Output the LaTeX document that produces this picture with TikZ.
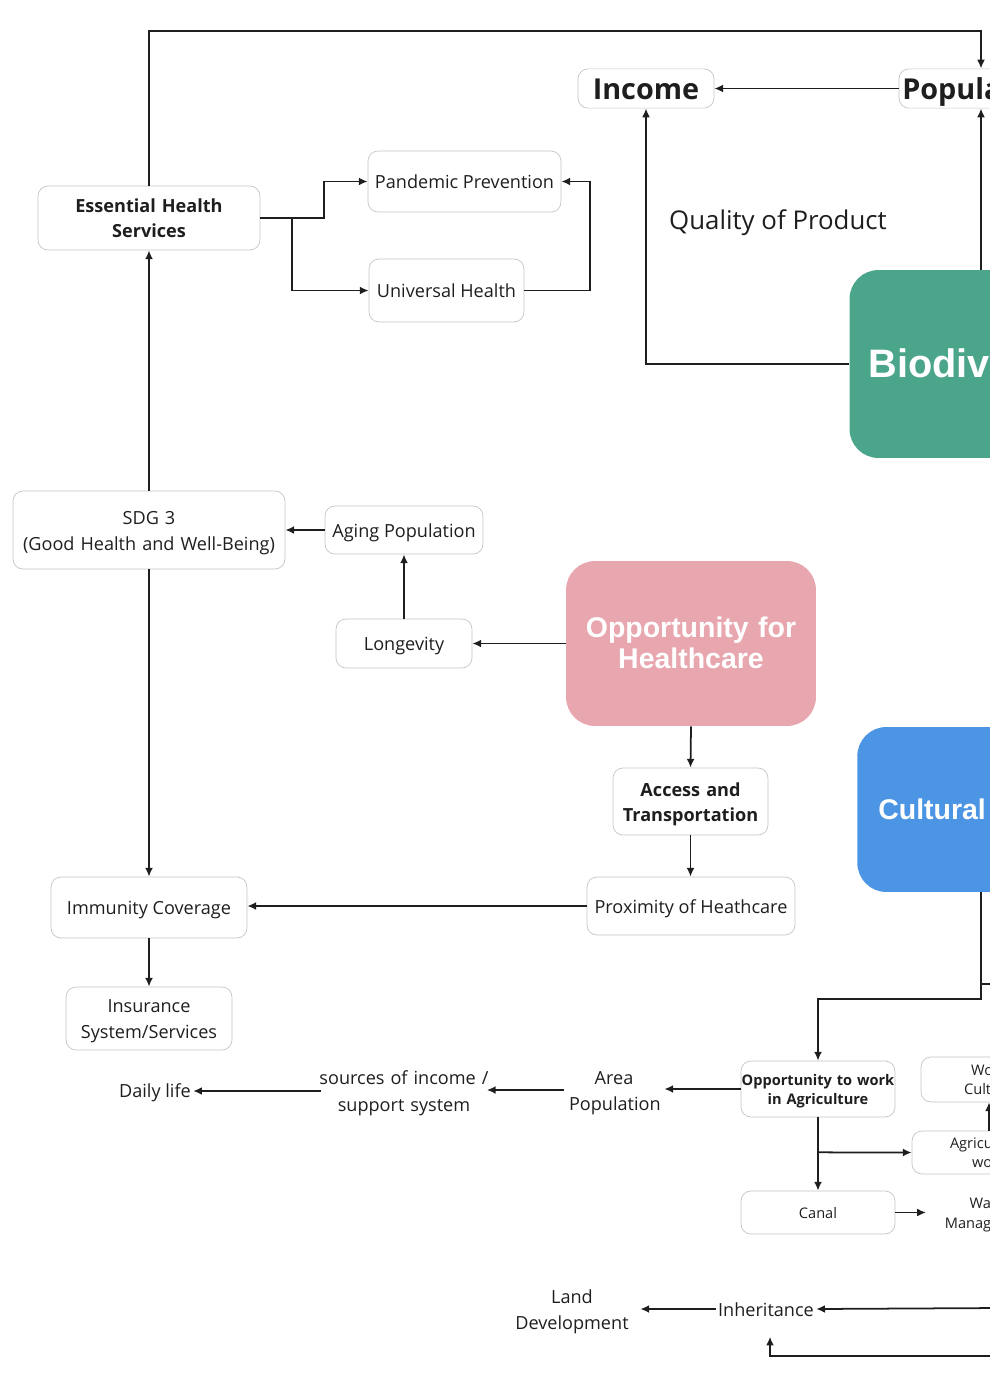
\documentclass[tikz,border=0pt]{standalone}
\usepackage{fontspec}
\setmainfont{Open Sans}
\newfontfamily\headfont{Liberation Sans}
\usetikzlibrary{arrows.meta}
\definecolor{ink}{HTML}{1E1E1E}
\definecolor{edge}{HTML}{C4C4C4}
\definecolor{biogreen}{HTML}{4BA58A}
\definecolor{healthpink}{HTML}{E8A6AF}
\definecolor{cultblue}{HTML}{4C95E4}
\tikzset{
	ostrut/.style={execute at begin node={\rule{0pt}{1.069em}}, execute at end node={\rule[-0.293em]{0pt}{0pt}}},
	hstrut/.style={execute at begin node={\rule{0pt}{0.905em}}, execute at end node={\rule[-0.212em]{0pt}{0pt}}},
	box/.style={draw=edge, line width=0.4pt, rounded corners=0.2cm, align=center, text=ink, inner sep=0pt, ostrut, font=\fontsize{10.3}{14.3}\selectfont},
	boldbox/.style={box, font=\bfseries\fontsize{10.3}{14.2}\selectfont},
	smallbox/.style={box, font=\fontsize{8.3}{11}\selectfont},
	boldsmall/.style={box, font=\bfseries\fontsize{8.3}{10.8}\selectfont},
	topic/.style={rounded corners=0.58cm, inner sep=0pt, text=white, align=center, hstrut, font=\headfont\bfseries\fontsize{16.2}{17.6}\selectfont},
	lbl/.style={text=ink, align=center, inner sep=0.04cm, ostrut, font=\fontsize{10.3}{14.8}\selectfont},
	link/.style={->, line width=1pt, draw=ink},
}
\begin{document}
\begin{tikzpicture}[x=0.02cm, y=-0.02cm, >={Latex[length=5pt,width=4.5pt]}]
	\useasboundingbox (0,0) rectangle (990,1380);
	\clip (0,0) rectangle (990,1380);
	\node[box, font=\bfseries\fontsize{16.4}{20}\selectfont, minimum width=2.72cm, minimum height=0.78cm] (income) at (646,88.5) {Income};
	\node[box, font=\bfseries\fontsize{16.4}{20}\selectfont, minimum width=3.28cm, minimum height=0.78cm] (popul) at (981,88.5) {Population};
	\node[lbl, font=\fontsize{14.7}{18}\selectfont] (quality) at (778,219) {Quality of Product};
	\node[topic, fill=biogreen, font=\headfont\bfseries\fontsize{22.6}{26}\selectfont, minimum width=5.3cm, minimum height=3.76cm] (biodiv) at (982,364) {Biodiversity};
	\node[boldbox, text width=4.44cm, minimum height=1.28cm] (ess) at (149,218) {Essential Health\\Services};
	\node[box, minimum width=3.86cm, minimum height=1.22cm] (pand) at (464.5,181.5) {Pandemic Prevention};
	\node[box, minimum width=3.1cm, minimum height=1.26cm] (univ) at (446.5,290.5) {Universal Health};
	\node[box, font=\fontsize{10.3}{14.8}\selectfont, text width=5.44cm, minimum height=1.56cm] (sdg) at (149,530) {SDG 3\\(Good Health and Well-Being)};
	\node[box, minimum width=3.16cm, minimum height=0.96cm] (aging) at (404,530) {Aging Population};
	\node[box, minimum width=2.72cm, minimum height=0.98cm] (longev) at (404,643.5) {Longevity};
	\node[topic, fill=healthpink, text width=5cm, minimum height=3.3cm] (opph) at (691,643.5) {Opportunity for\\Healthcare};
	\node[boldbox, text width=3.1cm, minimum height=1.34cm] (access) at (690.5,801.5) {Access and\\Transportation};
	\node[box, minimum width=4.16cm, minimum height=1.16cm] (prox) at (691,906) {Proximity of Heathcare};
	\node[topic, fill=cultblue, anchor=west, align=left, text width=4.56cm, inner xsep=0.42cm, minimum height=3.3cm] (cultural) at (857,809.5) {Cultural};
	\node[box, minimum width=3.92cm, minimum height=1.22cm] (immun) at (149,907.5) {Immunity Coverage};
	\node[box, text width=3.32cm, minimum height=1.26cm] (insur) at (149,1018.5) {Insurance\\System/Services};
	\node[lbl] (daily) at (155,1090) {Daily life};
	\node[lbl, font=\fontsize{10.3}{15.3}\selectfont, text width=3.5cm, inner xsep=-0.1cm] (sources) at (404,1091) {sources of income /\\support system};
	\node[lbl, inner xsep=0.1cm, text width=1.8cm] (area) at (614,1090) {Area\\Population};
	\node[boldsmall, text width=3.08cm, minimum height=1.12cm] (owork) at (818,1089) {Opportunity to work\\in Agriculture};
	\node[smallbox, text width=2.72cm, minimum height=0.9cm] (wcult) at (989,1079.5) {Work\\Culture};
	\node[smallbox, text width=3.08cm, minimum height=0.86cm] (agri) at (989,1152.5) {Agricultural\\work};
	\node[smallbox, minimum width=3.08cm, minimum height=0.86cm] (canal) at (818,1212.5) {Canal};
	\node[lbl, font=\fontsize{8.3}{11.3}\selectfont, text width=2cm] (water) at (990,1213) {Water\\Management};
	\node[lbl, inner xsep=0.2cm, text width=2.32cm] (land) at (572,1309) {Land\\Development};
	\node[lbl] (inher) at (766,1309) {Inheritance};
	\coordinate (cultr) at (1000,984);
	\coordinate (canalr) at (926,1212.5);
	\coordinate (inr) at (1000,1308);
	\coordinate (inr2) at (1000,1356);

	\draw[link] (ess.north) -- ++(0,-155) -| (popul.north);
	\draw[link] (popul.west) -- (income.east);
	\draw[link] (biodiv.west) -| (income.south);
	\draw[link] (biodiv.north -| popul.south) -- (popul.south);
	\draw[link] (ess.east) -- ++(64,0) |- (pand.west);
	\draw[link] ([xshift=0.64cm]ess.east) |- (univ.west);
	\draw[link] (univ.east) -- ++(66,0) |- (pand.east);
	\draw[link] (sdg.north) -- (ess.south);
	\draw[link] (aging.west) -- (sdg.east);
	\draw[link] (longev.north) -- (aging.south);
	\draw[link] (opph.west) -- (longev.east);
	\draw[link] (opph.south) -- (access.north);
	\draw[link] (access.south) -- (access.south |- prox.north);
	\draw[link] (prox.west) -- (prox.west -| immun.east);
	\draw[link] (sdg.south) -- (immun.north);
	\draw[link] (immun.south) -- (insur.north);
	\draw[link] (cultural.south -| popul.south) -- ++(0,107) -| (owork.north);
	\draw[link, -] (cultr -| popul.south) -- (cultr);
	\draw[link] (owork.west) -- (owork.west -| area.east);
	\draw[link] (area.west) -- (area.west -| sources.east);
	\draw[link] (sources.west) -- (sources.west -| daily.east);
	\draw[link] (owork.south) -- (canal.north);
	\draw[link] ([yshift=-0.7cm]owork.south) -- (agri.west);
	\draw[link] (agri.north) -- (wcult.south);
	\draw[link] (canal.east) -- (canalr);
	\draw[link] (inr) -- (inher.east);
	\draw[link] (inher.west) -- (inher.west -| land.east);
	\draw[link, shorten >=0.26cm] (inr2) -| ([xshift=0.08cm]inher.south);
\end{tikzpicture}
\end{document}
